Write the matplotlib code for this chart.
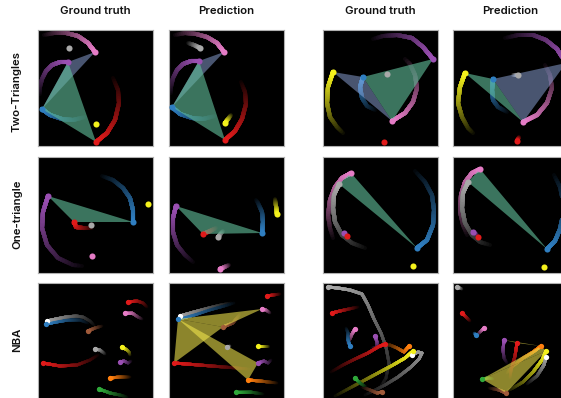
import numpy as np
import matplotlib
matplotlib.use("Agg")
import matplotlib.pyplot as plt
from matplotlib.collections import LineCollection
from matplotlib.patches import Polygon

plt.rcParams["font.family"] = ["Inter", "DejaVu Sans"]

W, H = 561, 398
PW, PH = 115, 116

col_titles = ["Ground truth", "Prediction", "Ground truth", "Prediction"]
row_titles = ["Two-Triangles", "One-triangle", "NBA"]
col_left = [38, 169, 323, 453]
row_top = [30, 157, 283]
col_title_x = [95, 226, 380, 510]
row_title_y = [92, 214, 340]

COLORS = {
    "pink": "#e57cc6", "purple": "#9a4fb2", "blue": "#2f7ec0", "red": "#e01a1a",
    "yellow": "#f4f11c", "gray": "#a9a9a9", "orange": "#ff7f0e", "green": "#2fa83a",
    "brown": "#a05a3a", "ball": "#a0a0a0",
}
TRI_COLORS = {
    "green": ((0.38, 0.74, 0.60), 0.62),
    "slate": ((0.60, 0.70, 0.92), 0.48),
    "gold": ((0.95, 0.90, 0.30), 0.58),
}

# Trajectories per panel: head first, then older positions (panel pixel coords)
tt_gt_left = {
    "pink": [(57, 22), (50, 13), (40, 6), (28, 3), (16, 3), (6, 5)],
    "gray": [(31, 18)],
    "purple": [(30, 32), (22, 32), (14, 35), (8, 41), (4, 49), (2, 57), (2, 64)],
    "blue": [(4, 79), (12, 85), (24, 89), (35, 90), (47, 87)],
    "red": [(58, 112), (69, 103), (77, 90), (81, 73), (80, 60), (75, 48)],
    "yellow": [(58, 94)],
}
tt_gt_left_tris = [(("pink", "purple", "blue"), "slate"), (("purple", "blue", "red"), "green")]

tt_pred_left = {
    "pink": [(55, 22), (48, 13), (38, 7), (27, 4), (16, 3), (6, 5)],
    "gray": [(31, 18), (25, 15), (19, 13)],
    "purple": [(30, 31), (22, 31), (14, 34), (8, 40), (4, 48), (2, 57), (2, 63)],
    "blue": [(3, 77), (11, 84), (23, 88), (34, 89), (46, 86)],
    "red": [(56, 110), (66, 101), (73, 89), (77, 74), (76, 62), (72, 52)],
    "yellow": [(56, 93), (59, 89), (62, 85)],
}
tt_pred_left_tris = [(("pink", "purple", "blue"), "slate"), (("purple", "blue", "red"), "green")]

tt_gt_right = {
    "purple": [(110, 29), (100, 17), (89, 8), (74, 5), (60, 6), (50, 9)],
    "yellow": [(10, 42), (5, 57), (4, 73), (7, 87), (14, 97), (20, 103)],
    "blue": [(40, 47), (37, 57), (39, 68), (44, 76), (52, 80)],
    "pink": [(69, 91), (82, 83), (90, 72), (94, 58), (92, 45), (87, 34), (82, 29)],
    "gray": [(64, 44)],
    "red": [(61, 112)],
}
tt_gt_right_tris = [(("yellow", "blue", "pink"), "slate"), (("blue", "purple", "pink"), "green")]

tt_pred_right = {
    "purple": [(113, 33), (104, 19), (93, 10), (80, 5), (65, 5), (52, 8)],
    "yellow": [(12, 43), (7, 57), (5, 73), (9, 87), (15, 98), (20, 103)],
    "blue": [(40, 49), (39, 60), (40, 70), (45, 77), (54, 82)],
    "pink": [(70, 92), (84, 85), (94, 73), (99, 58), (97, 45), (92, 35)],
    "gray": [(65, 45), (60, 45)],
    "red": [(64, 111), (66, 107)],
}
tt_pred_right_tris = [(("yellow", "blue", "pink"), "green"), (("blue", "purple", "pink"), "slate")]

one_gt_left = {
    "purple": [(10, 39), (5, 55), (4, 71), (9, 88), (20, 101), (35, 108), (44, 109)],
    "blue": [(95, 65), (95, 53), (92, 41), (85, 31), (75, 23), (64, 19)],
    "yellow": [(110, 47)],
    "red": [(36, 65), (38, 70), (45, 71), (54, 71)],
    "gray": [(53, 68)],
    "pink": [(54, 99)],
}
one_gt_left_tris = [(("purple", "blue", "red"), "green")]

one_pred_left = {
    "purple": [(7, 49), (4, 61), (4, 75), (8, 88), (16, 98), (24, 105)],
    "blue": [(93, 76), (94, 65), (93, 55), (89, 46), (87, 43)],
    "yellow": [(108, 57), (107, 49), (106, 42)],
    "red": [(34, 77), (39, 75), (47, 71)],
    "gray": [(49, 80), (54, 74)],
    "pink": [(51, 112), (60, 108)],
}
one_pred_left_tris = [(("purple", "blue", "red"), "green")]

one_gt_right = {
    "pink": [(28, 16), (19, 21), (12, 30), (7, 43), (5, 58), (7, 71), (10, 81)],
    "gray": [(16, 27), (11, 38), (10, 51), (12, 65), (19, 78), (29, 86), (42, 91)],
    "purple": [(21, 76)],
    "red": [(24, 79)],
    "blue": [(94, 91), (104, 83), (110, 68), (111, 53), (109, 38), (102, 25), (92, 14)],
    "yellow": [(90, 109)],
}
one_gt_right_tris = [(("pink", "gray", "blue"), "green")]

one_pred_right = {
    "pink": [(27, 12), (19, 16), (12, 25), (8, 38), (7, 55), (10, 68), (14, 78)],
    "gray": [(15, 25), (10, 36), (9, 51), (12, 66), (19, 78), (27, 85), (37, 88)],
    "purple": [(20, 75), (24, 78)],
    "red": [(25, 80)],
    "blue": [(94, 92), (102, 84), (107, 72), (110, 58), (110, 44), (107, 30), (101, 18)],
    "yellow": [(91, 110)],
}
one_pred_right_tris = [(("pink", "gray", "blue"), "green")]

nba_gt_left = {
    "ball": [(9, 38), (18, 36), (28, 34), (38, 33), (45, 34), (52, 38), (56, 42)],
    "blue": [(8, 41), (18, 39), (30, 37), (42, 37), (50, 40)],
    "brown": [(50, 48), (57, 45), (64, 43)],
    "red2": [(90, 19), (99, 18), (105, 20), (109, 24)],
    "pink": [(87, 30), (94, 30), (97, 32), (100, 34), (104, 36)],
    "gray": [(57, 66), (62, 67), (67, 71)],
    "red": [(5, 80), (22, 83), (39, 82), (52, 77), (60, 72)],
    "yellow": [(84, 64), (89, 67), (91, 69), (92, 72)],
    "purple": [(82, 79), (86, 78), (90, 80), (93, 78)],
    "orange": [(72, 95), (82, 94), (92, 94)],
    "green": [(61, 106), (72, 110), (82, 112), (89, 114)],
}
nba_gt_left_tris = []

nba_pred_left = {
    "ball": [(11, 33), (25, 29), (40, 25), (52, 22), (62, 20)],
    "blue": [(9, 36), (25, 32), (40, 27), (55, 23), (65, 20)],
    "red2": [(98, 13), (104, 12), (111, 11)],
    "pink": [(93, 26), (97, 27), (101, 30)],
    "brown": [(54, 44), (64, 40), (71, 31)],
    "gray": [(58, 64), (61, 63)],
    "yellow": [(89, 63), (95, 63), (99, 63)],
    "purple": [(89, 80), (95, 78), (99, 80), (102, 77)],
    "red": [(5, 80), (30, 82), (55, 84), (80, 86)],
    "orange": [(79, 97), (91, 98), (108, 100)],
    "green": [(67, 109), (81, 109), (94, 111)],
}
nba_pred_left_tris = [(("blue", "pink", "brown"), "gold"), (("blue", "red", "brown"), "gold"),
                      (("blue", "purple", "orange"), "gold")]

nba_gt_right = {
    "gray": [(5, 4), (15, 5), (27, 7), (39, 11), (45, 22), (51, 36), (58, 50), (63, 64),
             (66, 80), (63, 95), (55, 108)],
    "ball": [(89, 72), (95, 69), (99, 70), (96, 76), (88, 84), (75, 94), (62, 102), (50, 108), (42, 112)],
    "red2": [(9, 30), (17, 28), (26, 26), (35, 24)],
    "pink": [(32, 46), (29, 51), (27, 56), (24, 60)],
    "blue": [(27, 63), (25, 57), (25, 50), (23, 45)],
    "purple": [(52, 53), (54, 59), (54, 64), (49, 65)],
    "red": [(62, 61), (55, 64), (45, 70), (32, 76), (20, 82), (8, 89)],
    "orange": [(86, 63), (81, 69), (74, 65), (67, 62), (60, 62)],
    "yellow": [(90, 68), (82, 75), (70, 82), (55, 90), (40, 98), (25, 106), (12, 113)],
    "green": [(32, 95), (37, 100), (43, 104)],
    "brown": [(59, 109), (54, 110), (47, 107), (39, 104)],
}
nba_gt_right_tris = []

nba_pred_right = {
    "gray": [(4, 4), (9, 6)],
    "red2": [(9, 30), (13, 34), (17, 38)],
    "pink": [(31, 45), (28, 48), (25, 51)],
    "blue": [(23, 52), (21, 50)],
    "purple": [(51, 57), (50, 67), (51, 75), (54, 80)],
    "red": [(64, 60), (62, 73), (58, 87), (57, 95)],
    "orange": [(88, 63), (80, 69), (70, 75), (60, 83), (54, 90)],
    "yellow": [(93, 68), (89, 77), (80, 89), (70, 99), (60, 105), (54, 108)],
    "ball": [(93, 74), (91, 82), (84, 93), (74, 101)],
    "green": [(29, 96), (35, 95), (40, 96)],
    "brown": [(53, 110), (46, 107), (36, 105)],
}
nba_pred_right_tris = [(("green", "orange", "yellow"), "gold"), (("green", "yellow", "brown"), "gold"),
                       (("purple", "red", "orange"), "gold")]

panels = [
    [(tt_gt_left, tt_gt_left_tris), (tt_pred_left, tt_pred_left_tris),
     (tt_gt_right, tt_gt_right_tris), (tt_pred_right, tt_pred_right_tris)],
    [(one_gt_left, one_gt_left_tris), (one_pred_left, one_pred_left_tris),
     (one_gt_right, one_gt_right_tris), (one_pred_right, one_pred_right_tris)],
    [(nba_gt_left, nba_gt_left_tris), (nba_pred_left, nba_pred_left_tris),
     (nba_gt_right, nba_gt_right_tris), (nba_pred_right, nba_pred_right_tris)],
]


def base_color(name):
    return COLORS[name.rstrip("0123456789")]


def cut_path(pts, cum, s):
    """Part of a polyline from its head up to arc length s."""
    i = np.searchsorted(cum, s, side="right") - 1
    i = min(i, len(pts) - 2)
    t = (s - cum[i]) / max(cum[i + 1] - cum[i], 1e-9)
    end = pts[i] + (pts[i + 1] - pts[i]) * t
    return np.vstack([pts[: i + 1], end])


def trail_passes(pts, color, n=28):
    """Nested sub-paths from the head; shorter ones are brighter, giving a fading tail."""
    pts = np.asarray(pts, float)
    if len(pts) < 2:
        return []
    cum = np.r_[0, np.cumsum(np.hypot(*np.diff(pts, axis=0).T))]
    total = cum[-1]
    rgb = np.array(matplotlib.colors.to_rgb(color))
    out = []
    for j in range(n):
        frac = 1 - j / n
        bright = (1 - frac + 1 / n) ** 0.85
        out.append((bright, cut_path(pts, cum, total * frac), tuple(rgb * bright)))
    return out


fig = plt.figure(figsize=(W / 100, H / 100), dpi=100)
fig.patch.set_facecolor("white")

for r, row in enumerate(panels):
    nba = r == 2
    lw = 2.1 if nba else 2.9
    ms = 3.8 if nba else 4.4
    for c, (tracks, tris) in enumerate(row):
        x0, y0 = col_left[c], row_top[r]
        ax = fig.add_axes([x0 / W, 1 - (y0 + PH) / H, PW / W, PH / H])
        ax.set_facecolor("black")
        ax.set_xlim(0, PW)
        ax.set_ylim(PH, 0)
        ax.set_xticks([])
        ax.set_yticks([])
        for sp in ax.spines.values():
            sp.set_color("#b0b0b0")
            sp.set_linewidth(0.8)
        passes = []
        for name, pts in tracks.items():
            passes += trail_passes(pts, base_color(name))
        passes.sort(key=lambda p: p[0])
        if passes:
            lc = LineCollection([p[1] for p in passes], colors=[p[2] for p in passes],
                                linewidths=lw, capstyle="round", joinstyle="round", zorder=2)
            ax.add_collection(lc)
        for verts, tc in tris:
            fc, alpha = TRI_COLORS[tc]
            poly = Polygon([tracks[v][0] for v in verts], closed=True, facecolor=fc,
                           alpha=alpha, edgecolor="none", zorder=3)
            ax.add_patch(poly)
        for name, pts in tracks.items():
            hx, hy = pts[0]
            dot = "white" if name == "ball" else base_color(name)
            ax.plot([hx], [hy], "o", ms=ms, color=dot, mec="none", zorder=4)

for c, t in enumerate(col_titles):
    fig.text(col_title_x[c] / W, 1 - 11 / H, t, ha="center", va="center",
             fontsize=8.2, fontweight="semibold", color="#111111")
for r, t in enumerate(row_titles):
    fig.text(17 / W, 1 - row_title_y[r] / H, t, ha="center", va="center", rotation=90,
             fontsize=8.2, fontweight="semibold", color="#111111")

fig.savefig("out.png", dpi=100, facecolor="white")
